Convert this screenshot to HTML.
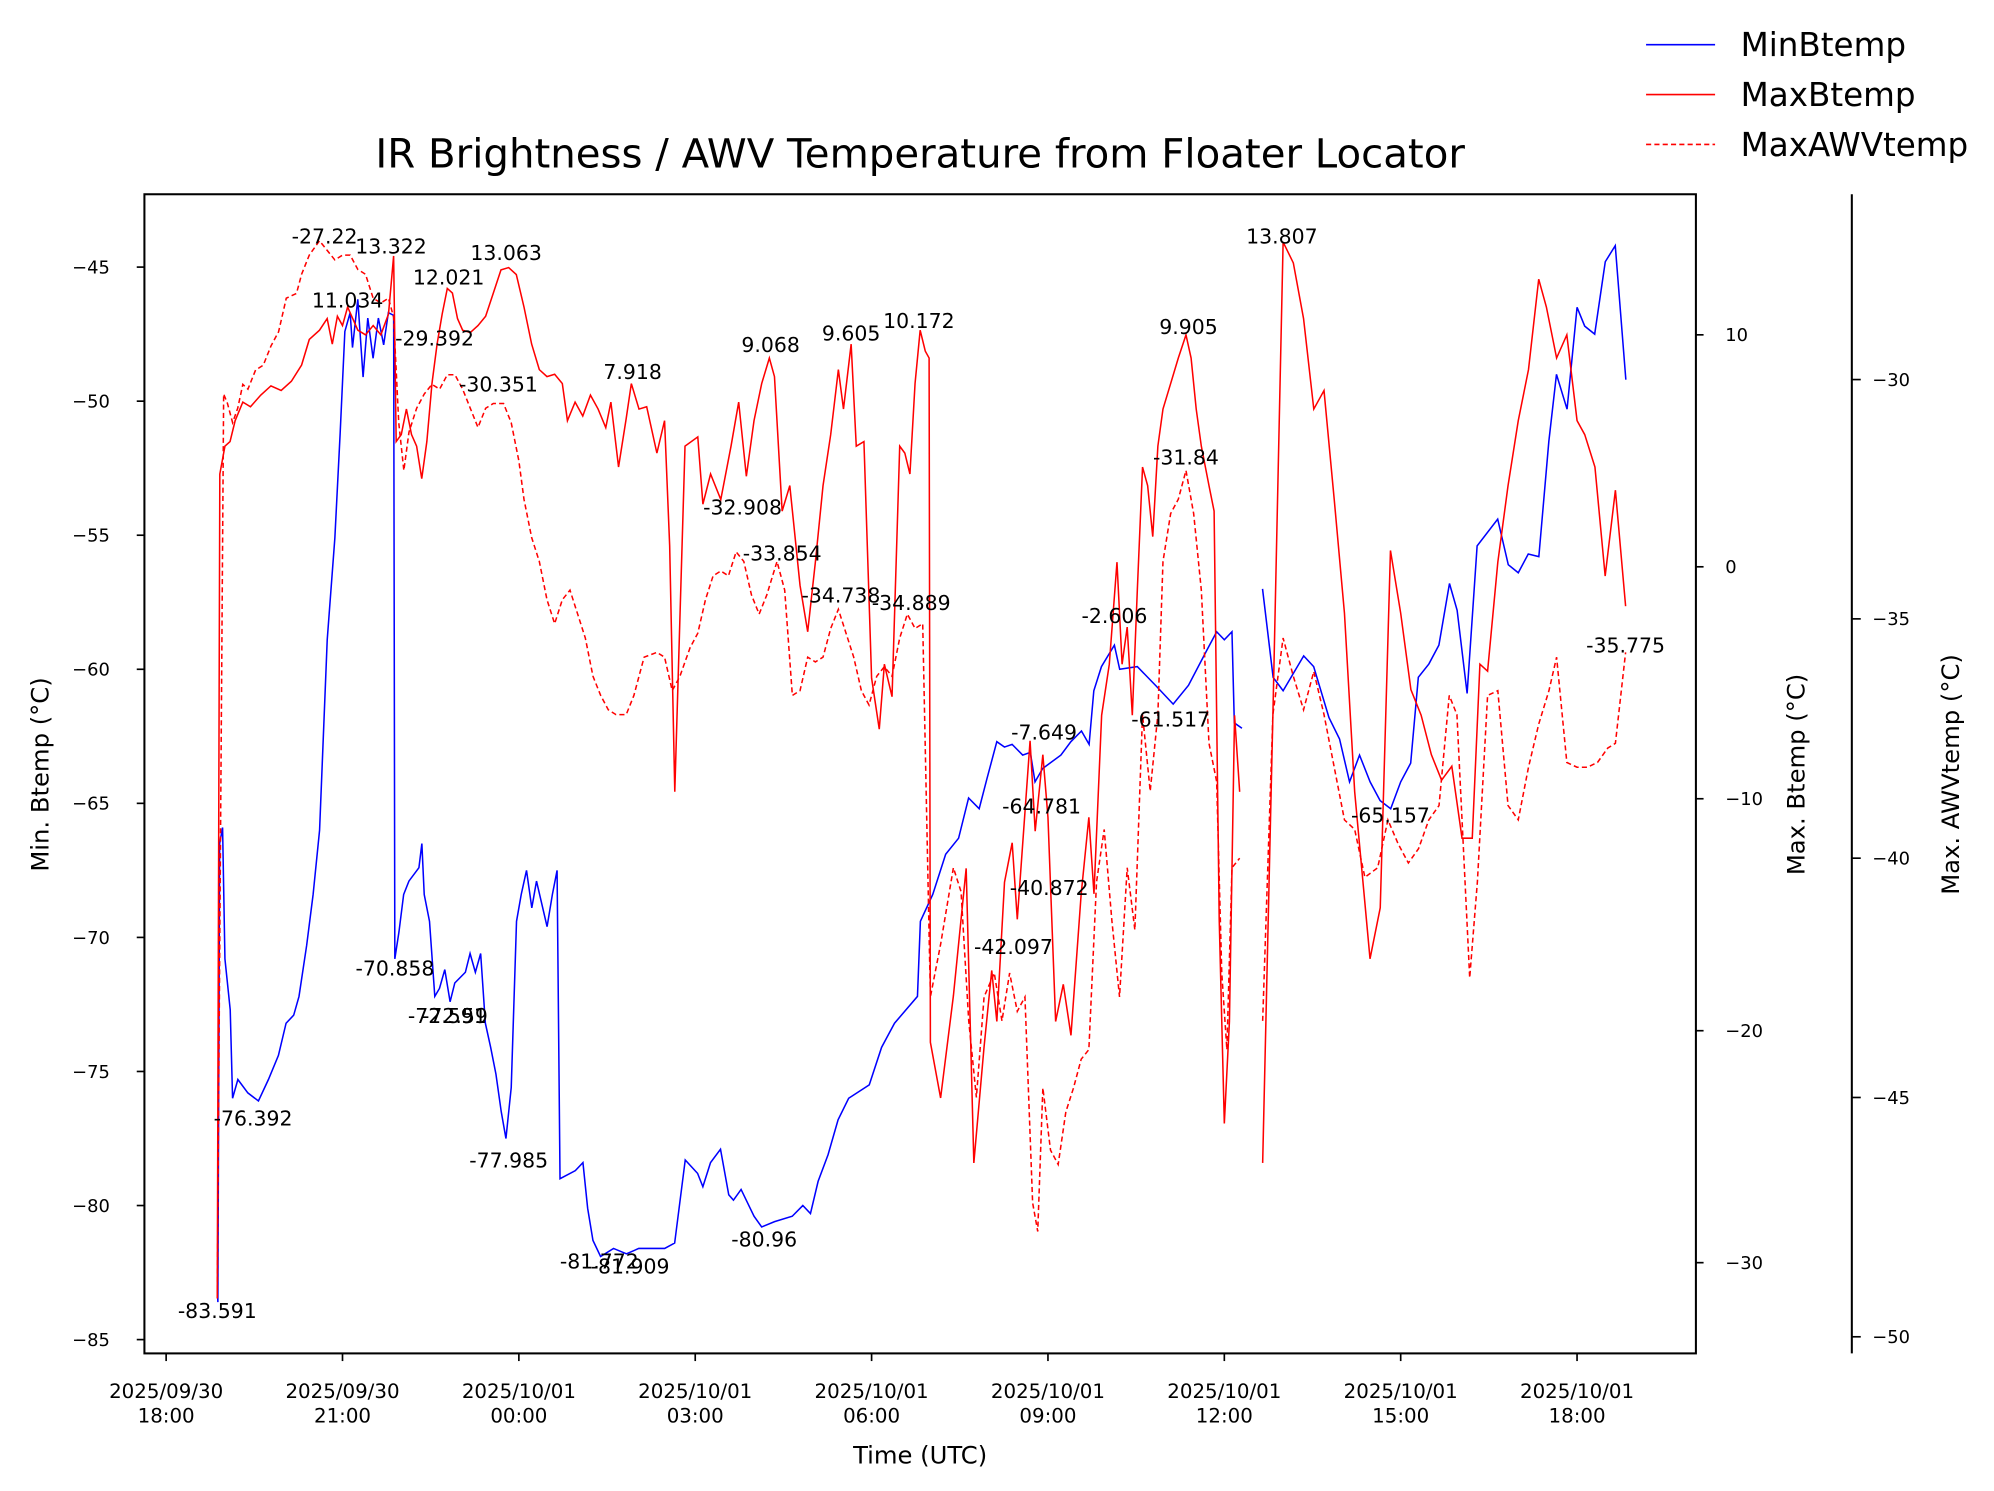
<!DOCTYPE html>
<html><head><meta charset="utf-8"><style>
html,body{margin:0;padding:0;background:#fff;}
svg{display:block;font-family:"DejaVu Sans","Liberation Sans",sans-serif;}
</style></head><body>
<svg id="chart" width="1994" height="1491" viewBox="0 0 1560.25 1166.67" preserveAspectRatio="none" xmlns="http://www.w3.org/2000/svg">
<rect x="0" y="0" width="1560.25" height="1166.67" fill="#fff"/>
<text x="720" y="131" font-size="31.5" text-anchor="middle">IR Brightness / AWV Temperature from Floater Locator</text>
<g id="plot"></g>
<g>
<line x1="1288" y1="35" x2="1342" y2="35" stroke="#0000ff" stroke-width="1.3"/>
<text x="1362" y="44" font-size="25.5">MinBtemp</text>
<line x1="1288" y1="74" x2="1342" y2="74" stroke="#ff0000" stroke-width="1.3"/>
<text x="1362" y="83" font-size="25.5">MaxBtemp</text>
<line x1="1288" y1="113" x2="1342" y2="113" stroke="#ff0000" stroke-width="1.3" stroke-dasharray="4,2.5"/>
<text x="1362" y="122" font-size="25.5">MaxAWVtemp</text>
</g>
</svg>
<script>
const xTicks=[0,3,6,9,12,15,18,21,24];
const xTickLabels=[["2025/09/30","18:00"],["2025/09/30","21:00"],["2025/10/01","00:00"],["2025/10/01","03:00"],["2025/10/01","06:00"],["2025/10/01","09:00"],["2025/10/01","12:00"],["2025/10/01","15:00"],["2025/10/01","18:00"]];
const leftTicks=[-45,-50,-55,-60,-65,-70,-75,-80,-85];
const rightTicks=[10,0,-10,-20,-30];
const awvTicks=[-30,-35,-40,-45,-50];
// MinBtemp: [hours since 2025-09-30 18:00, value]
const minB=[[0.87,-83.0],[0.88,-83.6],[0.91,-66.5],[0.96,-65.9],[1.0,-70.8],[1.09,-72.7],[1.13,-76.0],[1.22,-75.3],[1.39,-75.8],[1.57,-76.1],[1.74,-75.3],[1.91,-74.4],[2.04,-73.2],[2.17,-72.9],[2.26,-72.2],[2.39,-70.3],[2.5,-68.4],[2.61,-66.0],[2.74,-58.9],[2.87,-55.1],[2.96,-51.2],[3.04,-47.4],[3.13,-46.7],[3.17,-48.0],[3.26,-46.2],[3.35,-49.1],[3.43,-46.9],[3.52,-48.4],[3.61,-46.9],[3.70,-47.9],[3.78,-46.7],[3.87,-46.8],[3.89,-70.8],[3.96,-69.8],[4.04,-68.4],[4.13,-67.9],[4.30,-67.4],[4.35,-66.5],[4.39,-68.4],[4.48,-69.4],[4.57,-72.2],[4.65,-71.9],[4.74,-71.2],[4.83,-72.4],[4.91,-71.7],[5.09,-71.3],[5.17,-70.6],[5.26,-71.3],[5.35,-70.6],[5.43,-73.2],[5.52,-74.1],[5.61,-75.1],[5.70,-76.5],[5.78,-77.5],[5.87,-75.6],[5.96,-69.4],[6.04,-68.4],[6.13,-67.5],[6.22,-68.9],[6.30,-67.9],[6.48,-69.6],[6.57,-68.4],[6.65,-67.5],[6.70,-79.0],[6.96,-78.7],[7.09,-78.4],[7.17,-80.1],[7.26,-81.3],[7.39,-81.9],[7.61,-81.6],[7.83,-81.8],[8.04,-81.6],[8.48,-81.6],[8.65,-81.4],[8.83,-78.3],[9.04,-78.8],[9.13,-79.3],[9.26,-78.4],[9.43,-77.9],[9.57,-79.6],[9.65,-79.8],[9.78,-79.4],[10.0,-80.4],[10.13,-80.8],[10.35,-80.6],[10.65,-80.4],[10.83,-80.0],[10.96,-80.3],[11.09,-79.1],[11.26,-78.1],[11.43,-76.8],[11.61,-76.0],[11.96,-75.5],[12.17,-74.1],[12.39,-73.2],[12.78,-72.2],[12.83,-69.4],[13.04,-68.4],[13.26,-66.9],[13.48,-66.3],[13.65,-64.8],[13.83,-65.2],[13.96,-64.1],[14.13,-62.7],[14.26,-62.9],[14.39,-62.8],[14.57,-63.2],[14.70,-63.1],[14.78,-64.2],[14.91,-63.7],[15.22,-63.2],[15.39,-62.7],[15.57,-62.3],[15.70,-62.8],[15.78,-60.8],[15.91,-59.9],[16.13,-59.1],[16.22,-60.0],[16.52,-59.9],[16.83,-60.6],[17.13,-61.3],[17.39,-60.6],[17.70,-59.3],[17.87,-58.6],[18.0,-58.9],[18.13,-58.6],[18.17,-62.0],[18.30,-62.2],null,[18.65,-57.0],[18.83,-60.3],[19.0,-60.8],[19.35,-59.5],[19.52,-59.9],[19.78,-61.8],[19.96,-62.6],[20.13,-64.2],[20.30,-63.2],[20.48,-64.2],[20.65,-64.9],[20.83,-65.2],[21.0,-64.2],[21.17,-63.5],[21.30,-60.3],[21.48,-59.8],[21.65,-59.1],[21.83,-56.8],[21.96,-57.8],[22.13,-60.9],[22.30,-55.4],[22.65,-54.4],[22.83,-56.1],[23.0,-56.4],[23.17,-55.7],[23.35,-55.8],[23.52,-51.5],[23.65,-49.0],[23.83,-50.3],[24.0,-46.5],[24.13,-47.2],[24.30,-47.5],[24.48,-44.8],[24.65,-44.2],[24.83,-49.2]];
// MaxBtemp: times (as screen-sample index converted to hours) and values
const maxBx=[170,172,176,180,184,190,196,204,212,220,228,236,242,250,256,260,264,268,272,276,280,286,292,298,304,308,310,314,318,322,326,330,334,338,342,346,350,354,358,362,368,374,380,386,392,398,404,410,416,422,428,434,440,444,450,456,462,468,474,478,484,490,494,500,506,514,520,524,528,536,546,550,556,564,572,578,584,590,596,602,606,612,618,626,632,638,644,650,656,660,666,670,676,682,688,692,698,704,708,712,716,720,724,727,728,736,746,756,762,770,776,780,786,792,796,806,810,816,820,826,832,838,846,852,856,862,868,874,878,882,886,890,894,898,902,906,910,916,922,928,932,936,940,946,950,954,958,962,966,970,null,988,996,1004,1012,1020,1028,1036,1044,1052,1060,1072,1080,1088,1096,1104,1112,1120,1128,1136,1144,1152,1158,1164,1172,1180,1188,1196,1204,1210,1218,1226,1234,1240,1248,1256,1264,1272];
const maxBv=[-31.5,4.0,5.2,5.4,6.3,7.1,6.9,7.4,7.8,7.6,8.0,8.7,9.8,10.2,10.7,9.6,10.8,10.4,11.2,10.7,10.2,10.0,10.4,10.0,10.9,13.4,5.4,5.7,6.8,5.7,5.2,3.8,5.4,7.9,9.6,10.9,12.0,11.8,10.7,10.2,10.1,10.4,10.8,11.8,12.8,12.9,12.6,11.2,9.6,8.5,8.2,8.3,7.9,6.3,7.1,6.5,7.4,6.8,6.0,7.1,4.3,6.4,7.9,6.8,6.9,4.9,6.3,0.9,-9.7,5.2,5.6,2.7,4.0,2.9,5.2,7.1,3.9,6.3,7.9,9.0,8.2,2.4,3.5,-0.8,-2.8,0.2,3.5,5.7,8.5,6.8,9.6,5.2,5.4,-4.8,-7.0,-4.2,-5.6,5.2,4.9,4.0,7.9,10.2,9.3,9.0,-20.5,-22.9,-18.5,-13.0,-25.7,-20.7,-17.4,-19.6,-13.6,-11.9,-15.2,-7.5,-11.4,-8.1,-10.8,-19.6,-18.0,-20.2,-14.1,-10.8,-14.1,-6.4,-4.2,0.2,-4.2,-2.6,-6.4,-0.9,4.3,3.5,1.3,5.2,6.8,7.9,9.0,10.0,9.0,6.8,5.2,3.5,2.4,-15.2,-24.0,-19.6,-6.4,-9.7,null,-25.7,-6.4,14.0,13.1,10.7,6.8,7.6,2.9,-2.0,-9.7,-16.9,-14.7,0.7,-2.0,-5.3,-6.4,-8.1,-9.2,-8.6,-11.7,-11.7,-4.2,-4.5,0.2,3.5,6.3,8.5,12.4,11.2,9.0,10.0,6.3,5.7,4.3,-0.4,3.3,-1.7];
// MaxAWVtemp
const awvX=[170,175,178,182,186,190,194,200,206,212,218,224,232,236,242,250,256,262,268,274,280,286,292,298,304,308,312,316,320,326,332,338,344,350,356,362,368,374,380,386,394,400,406,410,416,422,428,434,440,446,452,458,464,470,476,482,490,496,504,514,520,526,532,540,546,552,558,564,570,576,582,588,594,600,608,614,620,626,632,638,644,650,656,662,668,674,680,686,692,698,704,710,716,722,728,736,746,752,758,764,770,778,784,790,796,802,808,812,816,822,828,834,840,846,852,858,864,870,876,882,888,894,900,906,910,916,922,928,934,940,946,952,956,960,964,970,null,988,996,1004,1012,1020,1028,1036,1044,1052,1060,1068,1078,1086,1094,1102,1110,1118,1126,1134,1140,1150,1156,1164,1172,1180,1188,1196,1204,1212,1218,1226,1234,1242,1250,1258,1264,1272];
const awvV=[-49.2,-30.3,-30.5,-30.9,-30.6,-30.1,-30.2,-29.8,-29.7,-29.3,-29.0,-28.3,-28.2,-27.8,-27.4,-27.1,-27.3,-27.5,-27.4,-27.4,-27.7,-27.8,-28.3,-28.4,-28.3,-28.7,-30.9,-31.9,-31.1,-30.6,-30.3,-30.1,-30.2,-29.9,-29.9,-30.2,-30.6,-31.0,-30.6,-30.5,-30.5,-30.9,-31.7,-32.5,-33.3,-33.8,-34.6,-35.1,-34.6,-34.4,-34.9,-35.4,-36.2,-36.6,-36.9,-37.0,-37.0,-36.6,-35.8,-35.7,-35.8,-36.5,-36.2,-35.6,-35.3,-34.6,-34.1,-34.0,-34.1,-33.6,-33.8,-34.5,-34.9,-34.5,-33.8,-34.4,-36.6,-36.5,-35.8,-35.9,-35.8,-35.2,-34.8,-35.3,-35.8,-36.5,-36.8,-36.2,-36.0,-36.2,-35.4,-34.9,-35.2,-35.1,-42.9,-41.8,-40.2,-40.7,-43.4,-45.0,-42.9,-42.4,-43.4,-42.4,-43.2,-42.9,-47.2,-47.8,-44.8,-46.1,-46.4,-45.3,-44.8,-44.2,-44.0,-40.5,-39.4,-41.3,-42.9,-40.2,-41.5,-37.0,-38.6,-37.0,-33.8,-32.8,-32.5,-31.9,-32.8,-34.4,-37.6,-38.4,-42.4,-44.0,-40.2,-40.0,null,-43.4,-37.0,-35.4,-36.2,-36.9,-36.1,-37.0,-38.1,-39.2,-39.4,-40.4,-40.2,-39.2,-39.7,-40.1,-39.8,-39.2,-38.9,-36.6,-37.0,-42.5,-40.5,-36.6,-36.5,-38.9,-39.2,-38.1,-37.2,-36.5,-35.8,-38.0,-38.1,-38.1,-38.0,-37.7,-37.6,-35.7];
const annotations=[["-27.22",254,185],["13.322",306,193],["11.034",272,235],["12.021",351,217],["13.063",396,198],["-29.392",340,265],["-30.351",390,301],["7.918",495,291],["9.068",603,270],["9.605",666,261],["10.172",719,251],["-32.908",581,397],["-33.854",612,433],["-34.738",658,466],["-34.889",713,472],["13.807",1003,185],["9.905",930,256],["-31.84",928,358],["-2.606",872,482],["-61.517",916,563],["-7.649",817,573],["-64.781",815,631],["-40.872",821,695],["-42.097",793,741],["-65.157",1088,638],["-35.775",1272,505],["-70.858",309,758],["-72.591",350,795],["-72.59",356,795],["-76.392",198,875],["-77.985",398,908],["-81.772",469,987],["-81.909",493,991],["-80.96",598,970],["-83.591",170,1026]];

const NS="http://www.w3.org/2000/svg";
const plot=document.getElementById('plot');
const L=113,R=1327,T=152,B=1059;
function x(h){return 130+46*h;}
function dx(px){return (px-130)/46;}
function yL(v){return 209+(-45-v)*20.98;}
function yR(v){return 262+(10-v)*18.15;}
function yA(v){return 297+(-30-v)*37.45;}
function mk(tag,attrs){const e=document.createElementNS(NS,tag);for(const k in attrs)e.setAttribute(k,attrs[k]);plot.appendChild(e);return e;}
function pathFrom(pts){let d='',pen=false;for(const p of pts){if(!p){pen=false;continue;}d+=(pen?'L':'M')+p[0].toFixed(2)+','+p[1].toFixed(2);pen=true;}return d;}

const p1=mk('path',{d:pathFrom(minB.map(p=>p?[x(p[0]),yL(p[1])]:null)),fill:'none',stroke:'#0000ff','stroke-width':1.2});


const p2=mk('path',{d:pathFrom(maxBx.map((px,i)=>px===null?null:[x(dx(px)),yR(maxBv[i])])),fill:'none',stroke:'#ff0000','stroke-width':1.2});


const p3=mk('path',{d:pathFrom(awvX.map((px,i)=>px===null?null:[x(dx(px)),yA(awvV[i])])),fill:'none',stroke:'#ff0000','stroke-width':1.2,'stroke-dasharray':'4,2.5'});



annotations.forEach(a=>{const t=mk('text',{x:a[1],y:a[2]+5.5,'font-size':16,'text-anchor':'middle'});t.textContent=a[0];

});

const frame=mk('rect',{x:L,y:T,width:R-L,height:B-T,fill:'none',stroke:'#000','stroke-width':1.6});



xTicks.forEach((h,i)=>{const xx=x(h);mk('line',{x1:xx,y1:B,x2:xx,y2:B+6,stroke:'#000','stroke-width':1.3});
const t=mk('text',{x:xx,y:1094,'font-size':15.5,'text-anchor':'middle'});t.textContent=xTickLabels[i][0];


const t2=mk('text',{x:xx,y:1113,'font-size':15.5,'text-anchor':'middle'});t2.textContent=xTickLabels[i][1];

});
leftTicks.forEach(v=>{const yy=yL(v);mk('line',{x1:L-6,y1:yy,x2:L,y2:yy,stroke:'#000','stroke-width':1.3});
const t=mk('text',{x:86,y:yy+5,'font-size':14,'text-anchor':'end'});t.textContent='\u2212'+Math.abs(v);

});
rightTicks.forEach(v=>{const yy=yR(v);mk('line',{x1:R,y1:yy,x2:R+6,y2:yy,stroke:'#000','stroke-width':1.3});
const t=mk('text',{x:R+23,y:yy+5,'font-size':14}); t.textContent=(v<0?'\u2212':'')+Math.abs(v);

});
const sp=mk('line',{x1:1449,y1:T,x2:1449,y2:B,stroke:'#000','stroke-width':1.6});


awvTicks.forEach(v=>{const yy=yA(v);mk('line',{x1:1449,y1:yy,x2:1456,y2:yy,stroke:'#000','stroke-width':1.3});
const t=mk('text',{x:1465,y:yy+5,'font-size':14}); t.textContent='\u2212'+Math.abs(v);

});

const xt=mk('text',{x:720,y:1145,'font-size':19,'text-anchor':'middle'});xt.textContent='Time (UTC)';


const yl=mk('text',{x:0,y:0,'font-size':19,'text-anchor':'middle',transform:'translate(38,606) rotate(-90)'});yl.textContent='Min. Btemp (\u00b0C)';


const yr=mk('text',{x:0,y:0,'font-size':19,'text-anchor':'middle',transform:'translate(1412,606) rotate(-90)'});yr.textContent='Max. Btemp (\u00b0C)';


const ya=mk('text',{x:0,y:0,'font-size':19,'text-anchor':'middle',transform:'translate(1533,606) rotate(-90)'});ya.textContent='Max. AWVtemp (\u00b0C)';


</script>
</body></html>
